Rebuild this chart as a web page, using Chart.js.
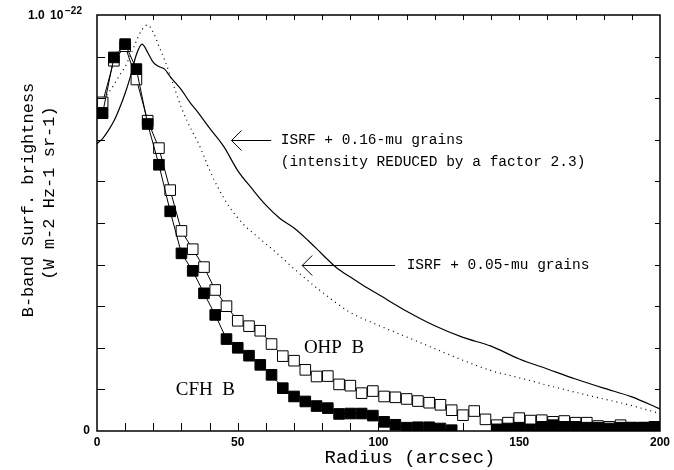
<!DOCTYPE html>
<html>
<head>
<meta charset="utf-8">
<script src="https://cdn.jsdelivr.net/npm/chart.js@4.4.1/dist/chart.umd.min.js"></script>
<style>
  html, body { margin: 0; padding: 0; background: #fff; }
</style>
</head>
<body>
<canvas id="profileChart" width="674" height="470"></canvas>
<script>
// ---- observed radial profiles (radius in arcsec, brightness in 1e-22 W m-2 Hz-1 sr-1)
const radiusObs = [2, 6, 10, 14, 18, 22, 26, 30, 34, 38, 42, 46, 50, 54, 58, 62, 66, 70, 74, 78,
  82, 86, 90, 94, 98, 102, 106, 110, 114, 118, 122, 126, 130, 134, 138, 142, 146, 150, 154, 158,
  162, 166, 170, 174, 178, 182, 186, 190, 194, 198];

const cfhB = [0.764, 0.898, 0.930, 0.870, 0.738, 0.640, 0.528, 0.427, 0.385, 0.331, 0.279, 0.221,
  0.200, 0.181, 0.159, 0.135, 0.103, 0.083, 0.071, 0.060, 0.055, 0.041, 0.042, 0.042, 0.037, 0.022,
  0.015, 0.008, 0.009, 0.009, 0.006, 0.002, -0.02, -0.02, -0.02, 0.004, 0.006, 0.008, 0.004, 0.010,
  0.014, 0.010, 0.010, 0.008, 0.008, 0.006, 0.008, 0.008, 0.008, 0.010];

const ohpB = [0.790, 0.890, 0.925, 0.845, 0.746, 0.680, 0.579, 0.481, 0.437, 0.394, 0.339, 0.300,
  0.265, 0.252, 0.241, 0.209, 0.180, 0.169, 0.147, 0.131, 0.132, 0.112, 0.109, 0.091, 0.096, 0.083,
  0.081, 0.077, 0.072, 0.068, 0.063, 0.050, 0.038, 0.048, 0.028, 0.014, 0.020, 0.031, 0.025, 0.026,
  0.022, 0.024, 0.020, 0.020, 0.012, 0.010, 0.014, 0.008, 0.008, 0.010];

// ---- models
const radiusBig = [0, 2, 4, 6, 8, 10, 12, 14, 16, 18, 20, 22, 24, 26, 28, 30, 33, 36, 40, 45, 50,
  55, 60, 65, 70, 75, 80, 85, 90, 95, 100, 110, 120, 130, 140, 150, 160, 170, 180, 190, 200];
const bigGrains = [0.691, 0.703, 0.722, 0.745, 0.776, 0.812, 0.855, 0.905, 0.930, 0.910, 0.886,
  0.876, 0.870, 0.852, 0.836, 0.820, 0.790, 0.765, 0.728, 0.684, 0.626, 0.583, 0.543, 0.511, 0.488,
  0.458, 0.425, 0.393, 0.370, 0.348, 0.328, 0.288, 0.253, 0.225, 0.204, 0.173, 0.149, 0.125, 0.103,
  0.082, 0.053];

const radiusSmall = [0, 2, 4, 6, 8, 10, 12, 14, 16, 18, 20, 22, 24, 26, 28, 30, 32, 34, 36, 38, 40,
  43, 47, 52, 57, 65, 70, 79, 90, 100, 110, 120, 130, 140, 150, 160, 170, 180, 190, 200];
const smallGrains = [0.780, 0.795, 0.812, 0.832, 0.855, 0.876, 0.905, 0.938, 0.965, 0.976, 0.958,
  0.925, 0.892, 0.855, 0.815, 0.777, 0.745, 0.718, 0.692, 0.660, 0.627, 0.585, 0.539, 0.497, 0.467,
  0.421, 0.390, 0.339, 0.285, 0.254, 0.226, 0.198, 0.170, 0.145, 0.128, 0.110, 0.093, 0.077, 0.061,
  0.042];

// ---- tick labels
const xTickValues = [0, 50, 100, 150, 200];
const xTickLabels = ['0', '50', '100', '150', '200'];
const yTickLabels = ['0', '1.0'];
const yExponent = '\u221222';

const xTitle = 'Radius (arcsec)';
const yTitle = ['B-band Surf. brightness', '(W m-2 Hz-1 sr-1)'];
const noteBig = ['ISRF + 0.16-mu grains', '(intensity REDUCED by a factor 2.3)'];
const noteSmall = 'ISRF + 0.05-mu grains';
const seriesNames = ['OHP  B', 'CFH  B'];

const toXY = (xs, ys) => xs.map((x, i) => ({ x: x, y: ys[i] }));

// frame, inward ticks, titles and notes
const framePlugin = {
  id: 'frame',
  afterDraw(chart) {
    const ctx = chart.ctx;
    const a = chart.chartArea;
    const sx = chart.scales.x, sy = chart.scales.y;
    ctx.save();
    ctx.strokeStyle = '#000';
    ctx.lineWidth = 1.5;
    ctx.strokeRect(a.left, a.top, a.right - a.left, a.bottom - a.top);

    ctx.lineWidth = 1;
    ctx.beginPath();
    sx.ticks.forEach(t => {
      if (t.value <= 0 || t.value >= 200) return;
      const px = Math.round(sx.getPixelForValue(t.value)) + 0.5;
      ctx.moveTo(px, a.bottom); ctx.lineTo(px, a.bottom - 8);
      ctx.moveTo(px, a.top); ctx.lineTo(px, a.top + 5);
    });
    sy.ticks.forEach(t => {
      if (t.value <= 0.001 || t.value >= 0.999) return;
      const py = Math.round(sy.getPixelForValue(t.value)) + 0.5;
      ctx.moveTo(a.left, py); ctx.lineTo(a.left + 8, py);
      ctx.moveTo(a.right, py); ctx.lineTo(a.right - 5, py);
    });
    ctx.stroke();

    // top y label with exponent
    const yTop = sy.getPixelForValue(1);
    ctx.fillStyle = '#000';
    ctx.textBaseline = 'middle';
    ctx.textAlign = 'left';
    ctx.font = 'bold 12px "Liberation Sans"';
    ctx.fillText(yTickLabels[1], 28, yTop + 1);
    ctx.fillText('10', 50, yTop + 1);
    ctx.font = 'bold 10px "Liberation Sans"';
    ctx.fillText(yExponent, 65, yTop - 4);

    // axis titles
    ctx.font = '19px "Liberation Mono"';
    ctx.textAlign = 'center';
    ctx.fillText(xTitle, 410, 458);
    ctx.font = '17px "Liberation Mono"';
    ctx.save();
    ctx.translate(28, 200);
    ctx.rotate(-Math.PI / 2);
    ctx.fillText(yTitle[0], 0, 0);
    ctx.restore();
    ctx.save();
    ctx.translate(49, 193);
    ctx.rotate(-Math.PI / 2);
    ctx.fillText(yTitle[1], 0, 0);
    ctx.restore();

    // arrows and notes (placed in data units)
    const arrow = (xTip, xTail, y) => {
      const tx = sx.getPixelForValue(xTip), ex = sx.getPixelForValue(xTail);
      const py = Math.round(sy.getPixelForValue(y)) + 0.5;
      ctx.beginPath();
      ctx.moveTo(ex, py); ctx.lineTo(tx, py);
      ctx.moveTo(tx + 10, py - 10); ctx.lineTo(tx, py); ctx.lineTo(tx + 10, py + 10);
      ctx.stroke();
    };
    arrow(47.8, 61.9, 0.70);
    arrow(72.9, 105.9, 0.399);

    ctx.font = '14.5px "Liberation Mono"';
    ctx.textAlign = 'left';
    ctx.fillText(noteBig[0], sx.getPixelForValue(65.3), sy.getPixelForValue(0.70));
    ctx.fillText(noteBig[1], sx.getPixelForValue(65.3), sy.getPixelForValue(0.647));
    ctx.fillText(noteSmall, sx.getPixelForValue(110), sy.getPixelForValue(0.399));

    ctx.font = '19px "Liberation Serif"';
    ctx.fillText(seriesNames[0], sx.getPixelForValue(73.5), sy.getPixelForValue(0.20));
    ctx.fillText(seriesNames[1], sx.getPixelForValue(28), sy.getPixelForValue(0.099));
    ctx.restore();
  }
};

const ctx = document.getElementById('profileChart').getContext('2d');
new Chart(ctx, {
  type: 'line',
  data: {
    datasets: [{
      label: 'CFH B',
      data: toXY(radiusObs, cfhB),
      borderColor: '#000',
      borderWidth: 1,
      pointStyle: 'rect',
      pointRadius: 7.5,
      pointBackgroundColor: '#000',
      pointBorderColor: '#000',
      pointBorderWidth: 1,
      order: 0
    }, {
      label: 'OHP B',
      data: toXY(radiusObs, ohpB),
      borderColor: '#000',
      borderWidth: 1,
      pointStyle: 'rect',
      pointRadius: 7.5,
      pointBackgroundColor: '#fff',
      pointBorderColor: '#000',
      pointBorderWidth: 1,
      order: 1
    }, {
      label: 'ISRF + 0.16-mu grains',
      data: toXY(radiusBig, bigGrains),
      borderColor: '#000',
      borderWidth: 1.2,
      pointRadius: 0,
      cubicInterpolationMode: 'monotone',
      order: 2
    }, {
      label: 'ISRF + 0.05-mu grains',
      data: toXY(radiusSmall, smallGrains),
      borderColor: '#000',
      borderWidth: 1.2,
      borderDash: [1, 4],
      pointRadius: 0,
      cubicInterpolationMode: 'monotone',
      order: 3
    }]
  },
  options: {
    responsive: false,
    animation: false,
    devicePixelRatio: 1,
    layout: { padding: { top: 15, right: 11, left: 0, bottom: 0 } },
    plugins: { legend: { display: false }, tooltip: { enabled: false } },
    scales: {
      x: {
        type: 'linear',
        min: 0,
        max: 200,
        grid: { display: false, drawTicks: false },
        border: { display: false },
        ticks: {
          stepSize: 10,
          autoSkip: false,
          maxRotation: 0,
          padding: 4,
          color: '#000',
          font: { family: 'Liberation Sans', size: 12, weight: 'bold' },
          callback: v => {
            const i = xTickValues.indexOf(v);
            return i >= 0 ? xTickLabels[i] : '';
          }
        },
        afterFit: s => { s.height = 39; }
      },
      y: {
        min: 0,
        max: 1,
        grid: { display: false, drawTicks: false },
        border: { display: false },
        ticks: {
          stepSize: 0.1,
          autoSkip: false,
          padding: 7,
          color: '#000',
          font: { family: 'Liberation Sans', size: 12, weight: 'bold' },
          callback: v => (v === 0 ? yTickLabels[0] : '')
        },
        afterFit: s => { s.height = s.height; s.width = 97; }
      }
    }
  },
  plugins: [framePlugin]
});
</script>
</body>
</html>
